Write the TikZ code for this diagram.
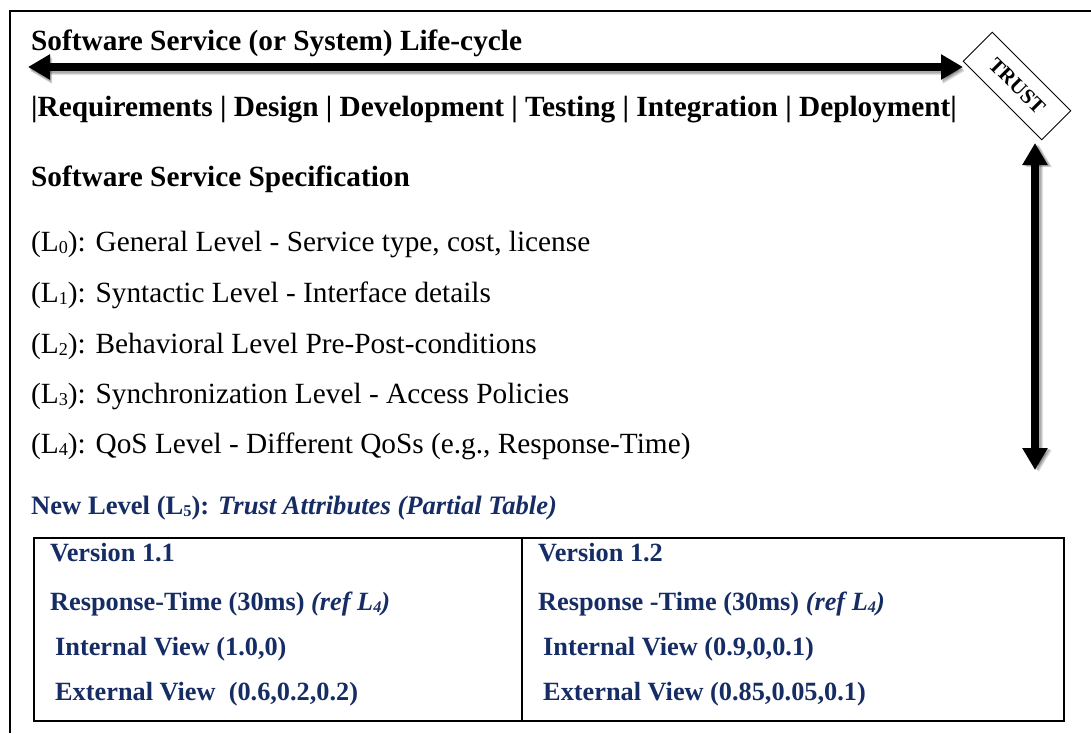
\documentclass[tikz,border=0pt]{standalone}
\usepackage{fontspec}
\setmainfont{Liberation Serif}
\usetikzlibrary{arrows.meta}
\definecolor{navy}{RGB}{22,44,100}
% small lowered digit for the level indices
\newcommand{\lvsub}[1]{\raisebox{-0.18ex}{\scalebox{0.62}{#1}}}
\begin{document}
\begin{tikzpicture}[x=1pt,y=-1pt,
  lbl/.style={anchor=base west,inner sep=0pt},
  head/.style={lbl,font=\fontsize{29.3}{31}\selectfont\bfseries},
  body/.style={lbl,font=\fontsize{29.3}{31}\selectfont},
  bluehead/.style={lbl,text=navy,font=\fontsize{26.6}{28}\selectfont\bfseries},
  cell/.style={lbl,text=navy,font=\fontsize{26.3}{28}\selectfont\bfseries},
  tblbox/.style={draw,line width=2.4pt,inner sep=0pt,anchor=north west},
  bigarrow/.style={line width=8pt,{Triangle[length=22pt,width=24pt]}-{Triangle[length=22pt,width=24pt]}},
  shade/.style={line width=8pt,draw=black,opacity=0.12,
    {Triangle[length=22pt,width=24pt]}-{Triangle[length=22pt,width=24pt]}}
]
\useasboundingbox (0,0) rectangle (1091,733);
\fill[white] (0,0) rectangle (1091,733);

% outer frame (open to the right and below)
\draw[line width=2pt] (1091,11) -- (10,11) -- (10,733);

% life-cycle heading and phases
\node[head] (life) at (31,51) {Software Service (or System) Life-cycle};
\node[head] (phases) at (31,117) {|Requirements | Design | Development | Testing | Integration | Deployment|};

% trust tag
\node[draw,line width=1pt,rotate=-45,minimum width=111pt,minimum height=41pt,inner sep=0pt,
  font=\fontsize{21}{22}\selectfont\bfseries] (trust) at (1017,86) {TRUST};

% arrow ends
\coordinate (hl) at (28,67);
\coordinate (hr) at (963,67);
\coordinate (vt) at (1035,143);
\coordinate (vb) at (1035,470);

% soft shadows under the arrows
\foreach \d in {2,3,4}{
  \draw[shade] ([shift={(\d*0.5,\d)}]hl) -- ([shift={(\d*0.5,\d)}]hr);
  \draw[shade] ([shift={(\d,\d*0.5)}]vt) -- ([shift={(\d,\d*0.5)}]vb);
}
\draw[bigarrow] (hl) -- (hr);
\draw[bigarrow] (vt) -- (vb);

% specification levels
\node[head] (spec) at (31,186) {Software Service Specification};
\node[body] (l0) at (31,251) {(L\lvsub{0}): General Level - Service type, cost, license};
\node[body] (l1) at (31,302) {(L\lvsub{1}): Syntactic Level - Interface details};
\node[body] (l2) at (31,353) {(L\lvsub{2}): Behavioral Level Pre-Post-conditions};
\node[body] (l3) at (31,403) {(L\lvsub{3}): Synchronization Level - Access Policies};
\node[body] (l4) at (31,453) {(L\lvsub{4}): QoS Level - Different QoSs (e.g., Response-Time)};

% trust attributes
\node[bluehead] (l5) at (31,514) {New Level (L\lvsub{5}): \textit{Trust Attributes (Partial Table)}};

\node[tblbox,minimum width=488pt,minimum height=183pt] (c1) at (33,537) {};
\node[tblbox,minimum width=542pt,minimum height=183pt] (c2) at (521,537) {};

\node[cell] (v11) at (50,561) {Version 1.1};
\node[cell] (r11) at (50,610) {Response-Time (30ms) \textit{(ref L\lvsub{4})}};
\node[cell] (i11) at (55,655) {Internal View (1.0,0)};
\node[cell] (e11) at (55,700) {External View\ \ (0.6,0.2,0.2)};

\node[cell] (v12) at (538,561) {Version 1.2};
\node[cell] (r12) at (538,610) {Response -Time (30ms) \textit{(ref L\lvsub{4})}};
\node[cell] (i12) at (543,655) {Internal View (0.9,0,0.1)};
\node[cell] (e12) at (543,700) {External View (0.85,0.05,0.1)};
\end{tikzpicture}
\end{document}
